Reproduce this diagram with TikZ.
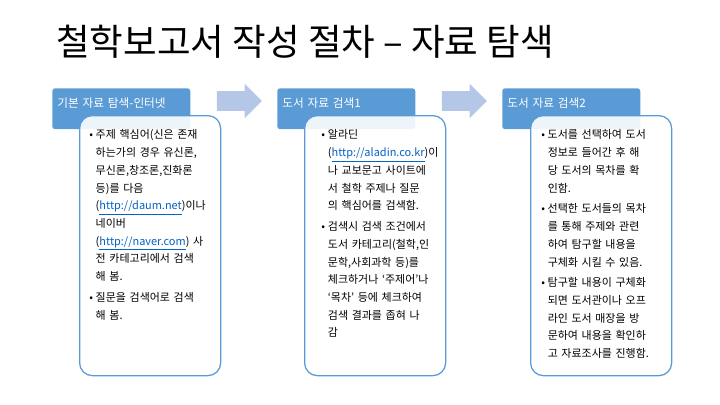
\documentclass[tikz,border=0pt]{standalone}
\usepackage{fontspec}
\setmainfont{Noto Sans CJK KR}
\usetikzlibrary{positioning,shapes.arrows}
\definecolor{encab}{HTML}{5B9BD5}
\definecolor{flecha}{HTML}{B4C7E7}
\definecolor{enlace}{HTML}{0563C1}
\newcommand{\bl}{\makebox[4.6pt][l]{•}}
\newcommand{\ind}{\hspace*{4.6pt}}
\newcommand{\lnk}[1]{{\color{enlace}\underline{#1}}}

\begin{document}
\begin{tikzpicture}[font=\fontsize{7.8}{12.6}\selectfont,
        h/.style={fill=encab,rounded corners=2pt,anchor=north west,minimum width=3.45cm,text width=3.2cm,
          align=left,inner xsep=0.125cm,inner ysep=0pt,text height=13.8pt,text depth=15.3pt,text=white,
          font=\fontsize{8.3}{10}\selectfont},
        b/.style={draw=encab,line width=0.9pt,fill=white,fill opacity=0.9,rounded corners=9pt,
          minimum width=3.525cm,minimum height=6.5cm},
        t/.style={anchor=north west,text width=3.3cm,align=left,inner sep=0pt},
        fl/.style={single arrow,fill=flecha,single arrow head extend=0.1875cm,minimum height=1.125cm,inner sep=0.2375cm}]
        \useasboundingbox (0,0) rectangle (18,-10.125);
        \node[anchor=west,inner sep=0pt,font=\fontsize{26}{30}\selectfont] (tit) at (1.4,-1.05) {철학보고서 작성 절차 – 자료 탐색};
        \node[h] (h1) at (1.3,-2.2) {기본 자료 탐색-인터넷};
        \node[h] (h2) at (6.925,-2.2) {도서 자료 검색1};
        \node[h] (h3) at (12.55,-2.2) {도서 자료 검색2};
        \node[fl] (a1) at (5.8625,-2.525) {};
        \node[fl] (a2) at (11.4875,-2.525) {};
        \node[b,below right=0.675cm and 0.675cm of h1.north west] (b1) {};
        \node[b,below right=0.675cm and 0.675cm of h2.north west] (b2) {};
        \node[b,below right=0.675cm and 0.7cm of h3.north west] (b3) {};
        \node[t,below right=0.365cm and 0.25cm of b1.north west] (t1) {%
          \bl 주제 핵심어(신은 존재\\
          \ind 하는가의 경우 유신론,\\
          \ind 무신론,창조론,진화론\\
          \ind 등)를 다음\\
          \ind (\lnk{http://daum.net})이나\\
          \ind 네이버\\
          \ind (\lnk{http://naver.com}) 사\\
          \ind 전 카테고리에서 검색\\
          \ind 해 봄.\\[2.2pt]
          \bl 질문을 검색어로 검색\\
          \ind 해 봄.};
        \node[t,below right=0.365cm and 0.43cm of b2.north west] (t2) {%
          \bl 알라딘\\
          \ind (\lnk{http://aladin.co.kr})이\\
          \ind 나 교보문고 사이트에\\
          \ind 서 철학 주제나 질문\\
          \ind 의 핵심어를 검색함.\\[2.2pt]
          \bl 검색시 검색 조건에서\\
          \ind 도서 카테고리(철학,인\\
          \ind 문학,사회과학 등)를\\
          \ind 체크하거나 ‘주제어’나\\
          \ind ‘목차’ 등에 체크하여\\
          \ind 검색 결과를 좁혀 나\\
          \ind 감};
        \node[t,below right=0.365cm and 0.275cm of b3.north west] (t3) {%
          \bl 도서를 선택하여 도서\\
          \ind 정보로 들어간 후 해\\
          \ind 당 도서의 목차를 확\\
          \ind 인함.\\[2.2pt]
          \bl 선택한 도서들의 목차\\
          \ind 를 통해 주제와 관련\\
          \ind 하여 탐구할 내용을\\
          \ind 구체화 시킬 수 있음.\\[2.2pt]
          \bl 탐구할 내용이 구체화\\
          \ind 되면 도서관이나 오프\\
          \ind 라인 도서 매장을 방\\
          \ind 문하여 내용을 확인하\\
          \ind 고 자료조사를 진행함.};
      \end{tikzpicture}
\end{document}
